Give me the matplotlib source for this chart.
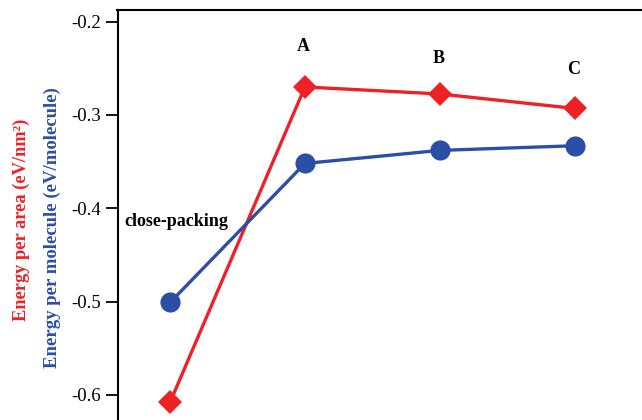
import matplotlib.pyplot as plt

plt.rcParams["font.family"] = ["Liberation Serif", "DejaVu Serif"]

structures = ["close-packing", "A", "B", "C"]
energy_per_area = [-0.608, -0.270, -0.2775, -0.293]
energy_per_molecule = [-0.501, -0.352, -0.338, -0.333]

RED = "#ec2227"
BLUE = "#2b4fa6"

fig = plt.figure(figsize=(6.42, 4.2), dpi=100)
ax = fig.add_axes([117.5 / 642, 0.0, 1 - 117.5 / 642, 410 / 420])

xs = range(len(structures))
ax.plot(xs, energy_per_area, color=RED, lw=2.4, marker="D", ms=12,
        markeredgewidth=0, zorder=3)
ax.plot(xs, energy_per_molecule, color=BLUE, lw=2.4, marker="o", ms=14.5,
        markeredgewidth=0, zorder=3)

ax.set_xlim(-0.39, 3.5)
ax.set_ylim(-0.627, -0.1875)
ax.set_yticks([-0.6, -0.5, -0.4, -0.3, -0.2])
ax.set_yticklabels(["-0.6", "-0.5", "-0.4", "-0.3", "-0.2"])
ax.set_xticks([])
ax.tick_params(axis="y", direction="out", length=9, width=1.3,
               labelsize=13.5, pad=3)
for side in ("right", "bottom"):
    ax.spines[side].set_visible(False)
for side in ("left", "top"):
    ax.spines[side].set_linewidth(1.5)

# structure labels
bold = dict(fontweight="bold", fontsize=13, ha="center", va="center")
ax.text(0.99, -0.227, "A", **bold)
ax.text(1.99, -0.239, "B", **bold)
ax.text(2.99, -0.251, "C", **bold)
ax.text(-0.34, -0.414, "close-packing", fontweight="bold", fontsize=13,
        ha="left", va="center")

# two stacked y-axis titles
fig.text(21 / 642, 1 - 220 / 420, "Energy per area (eV/nm²)", color=RED,
         rotation=90, ha="center", va="center", fontweight="bold",
         fontsize=13.2)
fig.text(52 / 642, 1 - 228 / 420, "Energy per molecule (eV/molecule)",
         color=BLUE, rotation=90, ha="center", va="center",
         fontweight="bold", fontsize=13.5)

fig.savefig("out.png", dpi=100)
